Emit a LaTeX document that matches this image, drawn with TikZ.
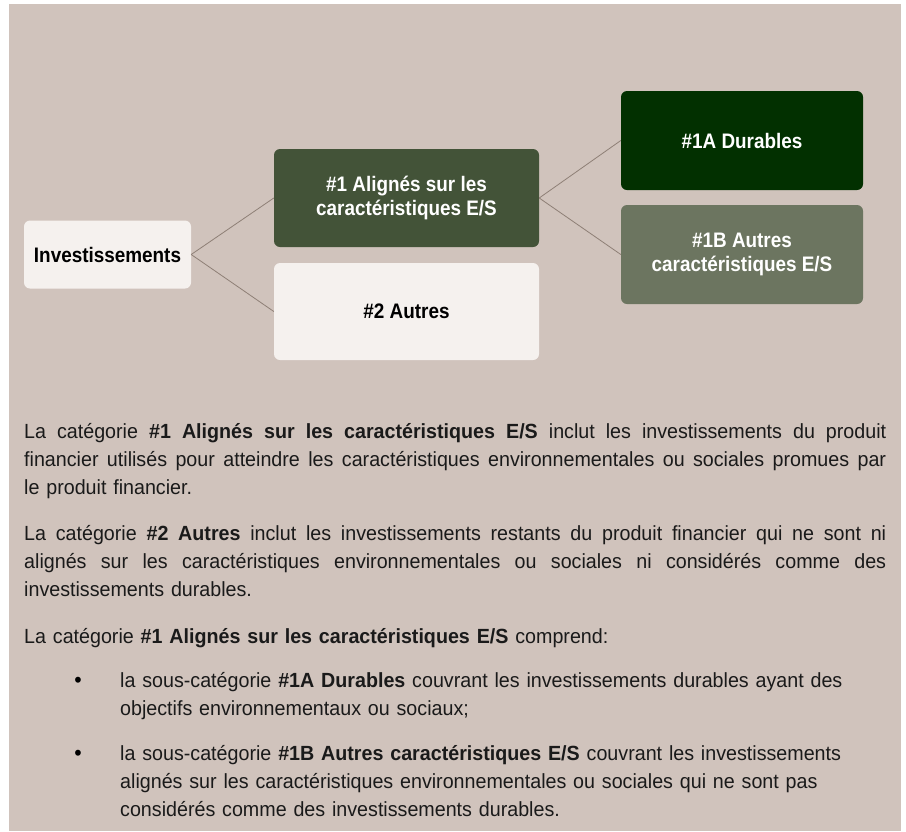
\documentclass[tikz,border=0pt]{standalone}
\usepackage{fontspec}
\setmainfont{Liberation Sans}[FakeStretch=0.96]
\newfontfamily\boxfont{Liberation Sans}[FakeStretch=0.9]
\definecolor{bgc}{HTML}{D0C3BC}
\definecolor{lightc}{HTML}{F5F1EE}
\definecolor{greenA}{HTML}{435338}
\definecolor{greenD}{HTML}{023000}
\definecolor{greenB}{HTML}{6C7560}
\definecolor{connc}{HTML}{8E7F76}
\definecolor{textc}{HTML}{1A1A1A}
\newcommand{\jl}[1]{\makebox[862pt][s]{\spaceskip=0pt\xspaceskip=0pt #1}}
\tikzset{
  box/.style={rounded corners=6pt, inner sep=0pt, align=center,
    font=\boxfont\fontsize{21}{24.5}\selectfont\bfseries},
  lightbox/.style={box, fill=lightc, text=black},
  darkbox/.style={box, text=white},
  conn/.style={draw=connc, line width=0.8pt},
  para/.style={anchor=north west, inner sep=0pt, text width=862pt, align=left,
    font=\fontsize{20.5}{28.3}\selectfont, text=textc},
  bpara/.style={anchor=north west, inner sep=0pt, text width=760pt, align=left,
    font=\fontsize{20.5}{28.3}\selectfont, text=textc},
  bulletc/.style={anchor=base, inner sep=0pt, font=\fontsize{22}{24}\selectfont, text=black}
}
\begin{document}
\begin{tikzpicture}[x=1pt,y=-1pt]
\useasboundingbox (0,0) rectangle (906,831);
\fill[bgc] (9,4) rectangle (901,831);

\node[lightbox, minimum width=167pt, minimum height=68pt] (inv) at (107.5,254.5) {Investissements};
\node[darkbox, fill=greenA, minimum width=265pt, minimum height=98pt] (a1) at (406.5,198) {\#1 Alignés sur les\\caractéristiques E/S};
\node[lightbox, minimum width=265pt, minimum height=97pt] (a2) at (406.5,311.5) {\#2 Autres};
\node[darkbox, fill=greenD, minimum width=242pt, minimum height=99pt] (d1a) at (742,140.5) {\#1A Durables};
\node[darkbox, fill=greenB, minimum width=242pt, minimum height=99pt] (d1b) at (742,254.5) {\#1B Autres\\caractéristiques E/S};

\draw[conn] (inv.east) -- (a1.west);
\draw[conn] (inv.east) -- (a2.west);
\draw[conn] (a1.east) -- (d1a.west);
\draw[conn] (a1.east) -- (d1b.west);

\node[para] (p1) at (24,418.2) {\strut\jl{La catégorie \textbf{\#1 Alignés sur les caractéristiques E/S} inclut les investissements du produit}\\\jl{financier utilisés pour atteindre les caractéristiques environnementales ou sociales promues par}\\le produit financier.};
\node[para] (p2) at (24,520.2) {\strut\jl{La catégorie \textbf{\#2 Autres} inclut les investissements restants du produit financier qui ne sont ni}\\\jl{alignés sur les caractéristiques environnementales ou sociales ni considérés comme des}\\investissements durables.};
\node[para] (p3) at (24,623.2) {\strut La catégorie \textbf{\#1 Alignés sur les caractéristiques E/S} comprend:};

\node[bulletc] (b1) at (78,687) {•};
\node[bpara] (t1) at (120,667.2) {\strut la sous-catégorie \textbf{\#1A Durables} couvrant les investissements durables ayant des\\objectifs environnementaux ou sociaux;};
\node[bulletc] (b2) at (78,760) {•};
\node[bpara] (t2) at (120,740.2) {\strut la sous-catégorie \textbf{\#1B Autres caractéristiques E/S} couvrant les investissements\\alignés sur les caractéristiques environnementales ou sociales qui ne sont pas\\considérés comme des investissements durables.};
\end{tikzpicture}
\end{document}
